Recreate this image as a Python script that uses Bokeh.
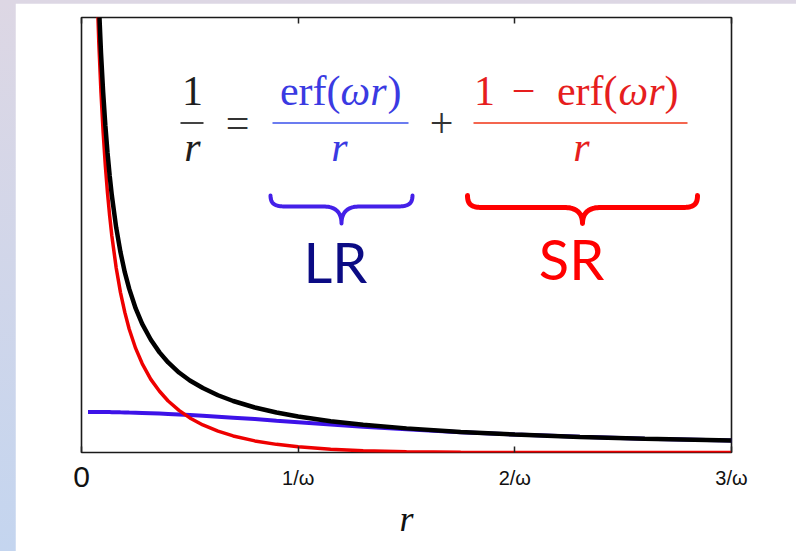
import numpy as np
from bokeh.plotting import figure
from bokeh.models import Label, FixedTicker, LinearAxis, Range1d, GlobalInlineStyleSheet
from bokeh.embed import file_html
from bokeh.resources import INLINE

# ---- data (r in units of 1/omega) ----
r_vals = [0.03, 0.05, 0.07, 0.08, 0.09, 0.10, 0.11, 0.12, 0.13, 0.14, 0.16, 0.18,
          0.20, 0.22, 0.25, 0.28, 0.32, 0.36, 0.40, 0.45, 0.50, 0.56, 0.63, 0.70,
          0.80, 0.90, 1.00, 1.15, 1.30, 1.50, 1.75, 2.00, 2.30, 2.60, 3.00]
total_1_over_r = [33.3, 20.0, 14.3, 12.5, 11.1, 10.0, 9.09, 8.33, 7.69, 7.14, 6.25, 5.56,
                  5.00, 4.55, 4.00, 3.57, 3.13, 2.78, 2.50, 2.22, 2.00, 1.79, 1.59, 1.43,
                  1.25, 1.11, 1.00, 0.87, 0.77, 0.67, 0.57, 0.50, 0.43, 0.38, 0.33]
long_range = [1.128, 1.127, 1.127, 1.126, 1.125, 1.125, 1.124, 1.123, 1.122, 1.121, 1.119, 1.116,
              1.114, 1.110, 1.105, 1.100, 1.091, 1.081, 1.071, 1.057, 1.041, 1.021, 0.995, 0.968,
              0.928, 0.885, 0.843, 0.779, 0.718, 0.644, 0.564, 0.498, 0.434, 0.385, 0.333]
short_range = [32.2, 18.87, 13.16, 11.37, 9.99, 8.88, 7.97, 7.21, 6.57, 6.02, 5.13, 4.44,
               3.89, 3.43, 2.89, 2.47, 2.03, 1.70, 1.43, 1.17, 0.96, 0.765, 0.592, 0.460,
               0.322, 0.226, 0.157, 0.090, 0.051, 0.023, 0.008, 0.002, 0.0005, 0.0001, 0.0]
tick_values = [0, 1, 2, 3]
tick_labels = ["0", "1/ω", "2/ω", "3/ω"]

Y_MAX = 12.08
FIG_W, FIG_H = 781, 548

css = ("html,body{margin:0;padding:0;overflow:hidden;}"
       "body{background:linear-gradient(to bottom,#ddd7e4 0%,#c4d5ef 100%);"
       "padding:3px 0 0 15px;min-height:100vh;box-sizing:border-box;}")

p = figure(width=FIG_W, height=FIG_H, output_backend="svg", toolbar_location=None,
           x_range=Range1d(0, 3), y_range=Range1d(0, Y_MAX),
           min_border_left=66, min_border_right=65, min_border_top=14, min_border_bottom=99,
           background_fill_color="white", border_fill_color="white")
p.stylesheets = [GlobalInlineStyleSheet(css=css)]
p.grid.visible = False
p.yaxis.visible = False
p.outline_line_color = "#1a1a1a"
p.outline_line_width = 1.6
p.outline_line_alpha = 1.0

# bottom axis: ticks and the 1/ω, 2/ω, 3/ω labels
bx = p.below[0]
bx.ticker = FixedTicker(ticks=tick_values)
bx.major_label_overrides = {v: ("" if v == 0 else lab) for v, lab in zip(tick_values, tick_labels)}
bx.major_label_text_font = "Liberation Sans"
bx.major_label_text_font_size = "20px"
bx.major_label_text_color = "#111111"
bx.major_label_standoff = 14
bx.major_tick_in = 6
bx.major_tick_out = 0
bx.major_tick_line_color = "#222222"
bx.major_tick_line_width = 1.5
bx.minor_tick_line_color = None
bx.axis_line_color = None

# second bottom axis: the larger "0" label and the axis title, pulled up next to the first
bx2 = LinearAxis(ticker=FixedTicker(ticks=tick_values[:1]),
                 major_label_overrides={tick_values[0]: tick_labels[0]},
                 major_label_text_font="Liberation Sans", major_label_text_font_size="30px",
                 major_label_text_color="#111111", major_label_standoff=-25,
                 major_tick_in=0, major_tick_out=0, major_tick_line_color=None,
                 minor_tick_line_color=None, axis_line_color=None,
                 axis_label="r", axis_label_text_font="Liberation Serif",
                 axis_label_text_font_style="italic", axis_label_text_font_size="36px",
                 axis_label_text_color="#111111", axis_label_standoff=9)
p.add_layout(bx2, "below")

# top axis (ticks only)
tx = LinearAxis(ticker=FixedTicker(ticks=tick_values),
                major_label_overrides={v: "" for v in tick_values},
                major_label_text_font_size="1px", major_tick_in=6, major_tick_out=0,
                major_tick_line_color="#222222", major_tick_line_width=1.5,
                minor_tick_line_color=None, axis_line_color=None, major_label_standoff=0)
p.add_layout(tx, "above")

# curves
p.line(r_vals, long_range, line_color="#3d12e8", line_width=4)
p.line(r_vals, short_range, line_color="#ee0000", line_width=3.5)
p.line(r_vals, total_1_over_r, line_color="#000000", line_width=4.5)

# helpers: page pixel -> data coordinates (annotation placement)
def dx(px):
    return (px - 81) / (650 / 3)

def dy(py):
    return (452 - py) / (435 / Y_MAX)

def lab(px, py_base, text, color, size, style="normal", align="center",
        font="Liberation Serif", k=0.3375):
    center = py_base - k * size
    p.add_layout(Label(x=dx(px), y=dy(center), text=text, text_color=color, text_font=font,
                       text_font_size=f"{size}px", text_font_style=style,
                       text_align=align, text_baseline="middle"))

# equation
NUM, DEN, MID = 105, 161, 137
blk, blu, red = "#1e1e1e", "#3a3ae2", "#e61e1e"
lab(192, NUM, "1", blk, 42)
lab(192, DEN, "r", blk, 42, style="italic")
lab(237, MID, "=", "#333333", 42)
lab(340, NUM, "erf(", blu, 42, align="right")
lab(363, NUM, "ωr", blu, 42, style="italic")
lab(387, NUM, ")", blu, 42, align="left")
lab(339, DEN, "r", blu, 42, style="italic")
lab(441, MID, "+", "#333333", 42)
lab(484, NUM, "1", red, 42)
lab(523, NUM, "−", red, 42)
lab(617, NUM, "erf(", red, 42, align="right")
lab(641, NUM, "ωr", red, 42, style="italic")
lab(664, NUM, ")", red, 42, align="left")
lab(581, DEN, "r", red, 42, style="italic")

# fraction bars
for x0, x1, c in [(180, 203, "#444444"), (272, 408, "#6b7cf0"), (473, 687, "#f4664f")]:
    p.line([dx(x0), dx(x1)], [dy(122.5), dy(122.5)], line_color=c, line_width=2)

# braces
def bez(p0, p1, p2, p3, n=20):
    t = np.linspace(0, 1, n)[:, None]
    pts = ((1 - t) ** 3) * np.array(p0) + 3 * ((1 - t) ** 2) * t * np.array(p1) \
        + 3 * (1 - t) * t ** 2 * np.array(p2) + t ** 3 * np.array(p3)
    return pts

def brace(xl, xr, ytop, yh, ytip, color, w):
    xc = (xl + xr) / 2
    segs = [
        bez((xl, ytop), (xl, yh - 2), (xl + 5, yh), (xl + 16, yh)),
        bez((xl + 16, yh), (xl + 16, yh), (xc - 18, yh), (xc - 18, yh), 2),
        bez((xc - 18, yh), (xc - 8, yh), (xc, yh + 4), (xc, ytip)),
        bez((xc, ytip), (xc, yh + 4), (xc + 8, yh), (xc + 18, yh)),
        bez((xc + 18, yh), (xc + 18, yh), (xr - 16, yh), (xr - 16, yh), 2),
        bez((xr - 16, yh), (xr - 5, yh), (xr, yh - 2), (xr, ytop)),
    ]
    pts = np.vstack(segs)
    p.line([dx(v) for v in pts[:, 0]], [dy(v) for v in pts[:, 1]],
           line_color=color, line_width=w, line_cap="round", line_join="round")

brace(270, 412, 195, 206, 223, "#4420e8", 4)
brace(467, 697, 195, 207, 223, "#ff0000", 5)

lab(335, 283, "LR", "#0b0b84", 56, font="Lato", k=0.387)
lab(571, 280, "SR", "#ff0000", 56, font="Lato", k=0.387)

open("out.html", "w").write(file_html(p, INLINE))
